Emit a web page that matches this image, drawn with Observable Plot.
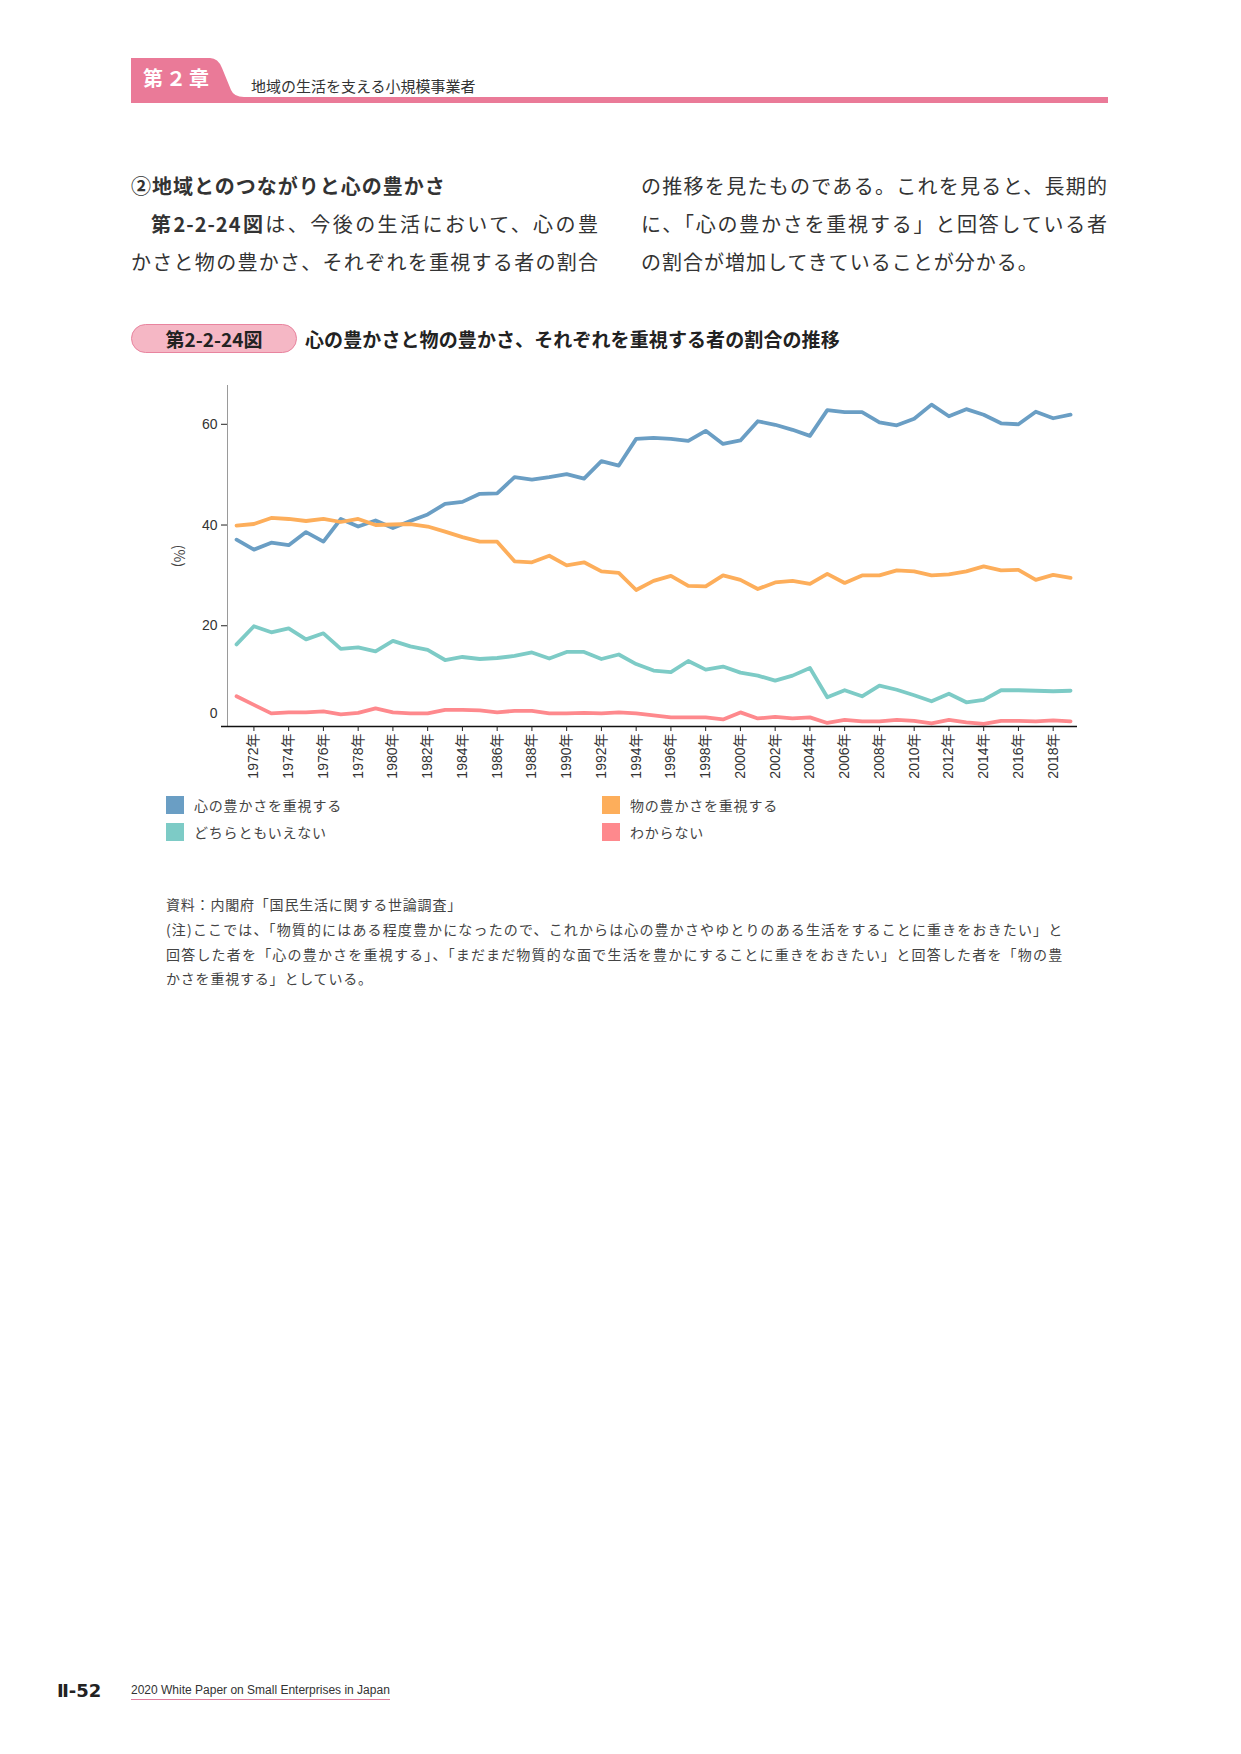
<!DOCTYPE html>
<html lang="ja">
<head>
<meta charset="utf-8">
<script src="https://cdn.jsdelivr.net/npm/d3@7"></script>
<script src="https://cdn.jsdelivr.net/npm/@observablehq/plot@0.6"></script>
<style>
  html, body { margin: 0; padding: 0; background: #fff; }
  #page { position: relative; width: 1241px; height: 1754px; background: #fff; overflow: hidden;
          font-family: "Noto Sans CJK JP", "Noto Sans", sans-serif; color: #333; }
  .abs { position: absolute; }
  .nw { white-space: nowrap; }
  .body { font-size: 20px; line-height: 30px; letter-spacing: 1px; color: #333; }
  .just { text-align: justify; text-align-last: justify; text-justify: inter-character; }
  .cap { font-size: 14px; line-height: 24px; letter-spacing: 0.8px; color: #444; }
  .legend-item { position: absolute; display: flex; align-items: center; font-size: 14px; letter-spacing: 0.8px; color: #444; white-space: nowrap; }
  .swatch { width: 18px; height: 18px; margin-right: 10px; }
  #chart { position: absolute; left: 150px; top: 370px; }
</style>
</head>
<body>
<div id="page">
  <!-- chapter header tab and rule -->
  <svg class="abs" style="left:0;top:0" width="1241" height="110">
    <path d="M131,58 L210,58 Q218,58 222,68 L231,90 Q234,97 244,97 L1108,97 L1108,103 L131,103 Z" fill="#ea7a98"/>
  </svg>
  <div class="abs nw" style="left:143px;top:64px;font-size:20px;line-height:28px;font-weight:700;color:#fff;letter-spacing:3px;">第２章</div>
  <div class="abs nw" style="left:251px;top:75px;font-size:15px;line-height:22px;color:#333;">地域の生活を支える小規模事業者</div>

  <!-- body text, two columns -->
  <div class="abs nw body" style="left:131px;top:171px;font-weight:700;">②地域とのつながりと心の豊かさ</div>
  <div class="abs body just" style="left:151px;top:209px;width:448px;"><b>第2-2-24図</b>は、今後の生活において、心の豊</div>
  <div class="abs body just" style="left:131px;top:247px;width:468px;">かさと物の豊かさ、それぞれを重視する者の割合</div>
  <div class="abs body just" style="left:641px;top:171px;width:467px;">の推移を見たものである。これを見ると、長期的</div>
  <div class="abs body just" style="left:641px;top:209px;width:467px;">に、「心の豊かさを重視する」と回答している者</div>
  <div class="abs nw body" style="left:641px;top:247px;">の割合が増加してきていることが分かる。</div>

  <!-- figure title -->
  <div class="abs" style="left:131px;top:324px;width:164px;height:27px;border:1px solid #e8849f;border-radius:15px;background:#f5b7c5;"></div>
  <div class="abs nw" style="left:131px;top:324px;width:166px;height:29px;line-height:29px;text-align:center;font-size:19px;font-weight:700;color:#222;">第2-2-24図</div>
  <div class="abs nw" style="left:305px;top:324px;height:29px;line-height:29px;font-size:19px;font-weight:700;color:#222;letter-spacing:0.1px;">心の豊かさと物の豊かさ、それぞれを重視する者の割合の推移</div>

  <div id="chart"></div>

  <!-- legend -->
  <div id="legend"></div>

  <!-- source and notes -->
  <div class="abs nw cap" style="left:166px;top:892px;">資料：内閣府「国民生活に関する世論調査」</div>
  <div class="abs cap just" style="left:166px;top:917px;width:897px;">(注)ここでは、「物質的にはある程度豊かになったので、これからは心の豊かさやゆとりのある生活をすることに重きをおきたい」と</div>
  <div class="abs cap just" style="left:166px;top:942px;width:897px;">回答した者を「心の豊かさを重視する」、「まだまだ物質的な面で生活を豊かにすることに重きをおきたい」と回答した者を「物の豊</div>
  <div class="abs nw cap" style="left:166px;top:966px;">かさを重視する」としている。</div>

  <!-- page footer -->
  <div class="abs nw" style="left:57px;top:1679px;font-family:'DejaVu Sans','Liberation Sans',sans-serif;font-size:18px;line-height:24px;font-weight:700;color:#222;">Ⅱ-52</div>
  <div class="abs nw" style="left:131px;top:1682px;font-family:'Liberation Sans',Arial,sans-serif;font-size:12px;line-height:16px;color:#333;border-bottom:1px solid #e07c9c;padding-bottom:1px;">2020 White Paper on Small Enterprises in Japan</div>
</div>

<script>
// Survey years plotted along the x axis
const years = [1971, 1972, 1973, 1974, 1975, 1976, 1977, 1978, 1979, 1980,
               1981, 1982, 1983, 1984, 1985, 1986, 1987, 1988, 1989, 1990,
               1991, 1992, 1993, 1994, 1995, 1996, 1997, 1998, 1999, 2000,
               2001, 2002, 2003, 2004, 2005, 2006, 2007, 2008, 2009, 2010,
               2011, 2012, 2013, 2014, 2015, 2016, 2017, 2018, 2019];

// Share of respondents (%) for each answer
const kokoro = [37.1, 35.1, 36.5, 36.0, 38.6, 36.7, 41.2, 39.7, 40.9, 39.4,
                40.8, 42.1, 44.2, 44.6, 46.2, 46.3, 49.5, 49.0, 49.5, 50.1,
                49.2, 52.7, 51.8, 57.1, 57.3, 57.1, 56.7, 58.7, 56.1, 56.8,
                60.6, 59.9, 58.9, 57.7, 62.8, 62.4, 62.4, 60.4, 59.8, 61.1,
                63.9, 61.6, 63.0, 61.9, 60.2, 60.0, 62.5, 61.2, 61.9];
const mono   = [39.9, 40.2, 41.4, 41.2, 40.8, 41.2, 40.6, 41.2, 40.0, 40.1,
                40.2, 39.7, 38.7, 37.6, 36.7, 36.7, 32.8, 32.6, 33.9, 32.0,
                32.6, 30.8, 30.5, 27.1, 28.9, 29.9, 27.9, 27.8, 30.0, 29.1,
                27.3, 28.6, 28.9, 28.3, 30.3, 28.5, 30.0, 30.0, 31.0, 30.8,
                30.0, 30.2, 30.8, 31.8, 31.0, 31.1, 29.1, 30.1, 29.5];
const dochira = [16.3, 19.9, 18.7, 19.5, 17.3, 18.5, 15.4, 15.7, 14.9, 17.0,
                 15.9, 15.2, 13.2, 13.8, 13.4, 13.6, 14.0, 14.7, 13.5, 14.8,
                 14.8, 13.4, 14.3, 12.4, 11.1, 10.8, 13.0, 11.3, 11.9, 10.7,
                 10.1, 9.1, 10.1, 11.6, 5.8, 7.2, 6.0, 8.1, 7.3, 6.2,
                 5.0, 6.5, 4.8, 5.3, 7.2, 7.2, 7.1, 7.0, 7.1];
const wakaranai = [6.0, 4.3, 2.6, 2.8, 2.8, 3.0, 2.4, 2.7, 3.6, 2.8,
                   2.6, 2.6, 3.3, 3.3, 3.2, 2.8, 3.1, 3.1, 2.6, 2.6,
                   2.7, 2.6, 2.8, 2.6, 2.2, 1.8, 1.8, 1.8, 1.4, 2.8,
                   1.6, 1.9, 1.6, 1.8, 0.7, 1.3, 1.0, 1.0, 1.3, 1.1,
                   0.6, 1.3, 0.8, 0.5, 1.1, 1.1, 1.0, 1.2, 1.0];

const seriesNames  = ["心の豊かさを重視する", "物の豊かさを重視する", "どちらともいえない", "わからない"];
const seriesColors = ["#6a9ec4", "#fdae5b", "#7dcbc6", "#fe898d"];
const seriesValues = [kokoro, mono, dochira, wakaranai];

// Axis ticks
const xTickYears = [1972, 1974, 1976, 1978, 1980, 1982, 1984, 1986, 1988, 1990, 1992, 1994,
                    1996, 1998, 2000, 2002, 2004, 2006, 2008, 2010, 2012, 2014, 2016, 2018];
const yTicks = [20, 40, 60];
const yBaseTick = [0];

// Long-format rows for the line mark
const rows = seriesNames.flatMap((name, s) =>
  years.map((year, i) => ({ year, value: seriesValues[s][i], series: name }))
);

// Scale extents: a half-year of padding before the first survey, a little after the last
const xDomain = [1970.48, 2019.4];
const yDomain = [0, 67.7];

const chart = Plot.plot({
  width: 950,
  height: 430,
  marginLeft: 77,
  marginRight: 23,
  marginTop: 15,
  marginBottom: 74,
  style: { fontFamily: "'Liberation Sans', 'Noto Sans CJK JP', sans-serif", fontSize: "14px", color: "#333", background: "transparent", overflow: "visible" },
  x: { domain: xDomain },
  y: { domain: yDomain },
  color: { domain: seriesNames, range: seriesColors },
  marks: [
    Plot.ruleX([xDomain[0]], { stroke: "#9a9a9a", strokeWidth: 1 }),
    Plot.line(rows, { x: "year", y: "value", z: "series", stroke: "series", strokeWidth: 3.8, strokeLinejoin: "round", strokeLinecap: "round" }),
    Plot.ruleY(yBaseTick, { stroke: "#111", strokeWidth: 1.3, insetLeft: -6 }),
    Plot.axisY({ ticks: yTicks, tickSize: 6, tickPadding: 4, label: null, fontSize: 14, stroke: "#222", fill: "#333" }),
    Plot.text(yBaseTick, { y: d => d, text: d => String(d), frameAnchor: "left", textAnchor: "end", dx: -10, dy: -13, fontSize: 14, fill: "#333" }),
    Plot.axisX({ ticks: xTickYears, tickSize: 5, tickPadding: 2, tickRotate: -90, tickFormat: d => `${d}年`, label: null, fontSize: 14, stroke: "#222", fill: "#333" }),
    Plot.text(["(%)"], { text: d => d, frameAnchor: "left", textAnchor: "middle", rotate: 90, dx: -49, fontSize: 14, fill: "#444", fontFamily: "'Noto Sans CJK JP', sans-serif" })
  ]
});
document.getElementById("chart").appendChild(chart);

// Legend: two columns, two rows
const legendPos = [
  { left: 166, top: 795 }, { left: 602, top: 795 },
  { left: 166, top: 822 }, { left: 602, top: 822 }
];
const legend = document.getElementById("legend");
seriesNames.forEach((name, i) => {
  const item = document.createElement("div");
  item.className = "legend-item";
  item.style.left = legendPos[i].left + "px";
  item.style.top = legendPos[i].top + "px";
  const sw = document.createElement("span");
  sw.className = "swatch";
  sw.style.background = seriesColors[i];
  const label = document.createElement("span");
  label.textContent = name;
  item.appendChild(sw);
  item.appendChild(label);
  legend.appendChild(item);
});
</script>
</body>
</html>
